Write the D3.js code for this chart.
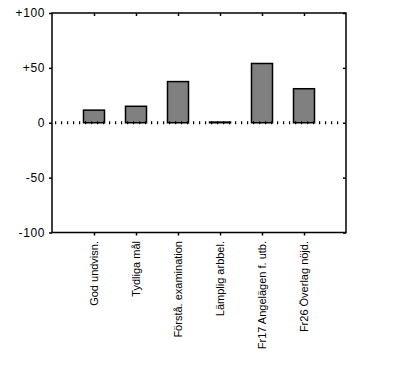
<!DOCTYPE html>
<html>
<head>
<meta charset="utf-8">
<script src="https://cdn.jsdelivr.net/npm/d3@7"></script>
<style>
  body { margin: 0; background: #fff; }
  text { font-family: "Liberation Sans", Arial, sans-serif; font-size: 11px; fill: #000; }
</style>
</head>
<body>
<script>
const w = 395;
const h = 366;

const categories = ["God undvisn.", "Tydliga mål", "Förstå. examination", "Lämplig arbbel.", "Fr17 Angelägen f. utb.", "Fr26 Överlag nöjd."];
const values = [11.5, 15, 37.5, 0.6, 54, 31];
const yTicks = [100, 50, 0, -50, -100];
const yTickLabels = ["+100", "+50", "0", "-50", "-100"];

const plotLeft = 52, plotRight = 346, plotTop = 13, plotBottom = 232.5;

const xScale = d3.scalePoint()
                 .domain(categories)
                 .range([plotLeft, plotRight])
                 .padding(1);

const yScale = d3.scaleLinear()
                 .domain([-100, 100])
                 .range([plotBottom, plotTop]);

const barW = xScale.step() / 2;

const svg = d3.select("body")
              .append("svg")
              .attr("width", w)
              .attr("height", h);

// bars
svg.selectAll("rect.bar")
   .data(values)
   .enter()
   .append("rect")
   .attr("class", "bar")
   .attr("x", (d, i) => xScale(categories[i]) - barW / 2)
   .attr("y", d => yScale(Math.max(d, 0)))
   .attr("width", barW)
   .attr("height", d => Math.abs(yScale(d) - yScale(0)))
   .attr("fill", "#808080")
   .attr("stroke", "#000")
   .attr("stroke-width", 1.5);

// dotted zero line
svg.append("line")
   .attr("x1", plotLeft + 3)
   .attr("x2", plotRight - 3)
   .attr("y1", yScale(0))
   .attr("y2", yScale(0))
   .attr("stroke", "#000")
   .attr("stroke-width", 3)
   .attr("stroke-dasharray", "1.2,4.8");

// axes
const yAxisLeft = d3.axisLeft(yScale)
                    .tickValues(yTicks)
                    .tickSize(3)
                    .tickFormat((d, i) => yTickLabels[i]);
const yAxisRight = d3.axisLeft(yScale)
                     .tickValues(yTicks)
                     .tickSize(3)
                     .tickFormat("");
const xAxisBottom = d3.axisBottom(xScale)
                      .tickSize(3)
                      .tickFormat("");
const xAxisTop = d3.axisBottom(xScale)
                   .tickSize(3)
                   .tickFormat("");

const gl = svg.append("g")
   .attr("transform", "translate(" + plotLeft + ",0)")
   .call(yAxisLeft);

svg.append("g")
   .attr("transform", "translate(" + plotRight + ",0)")
   .call(yAxisRight);

svg.append("g")
   .attr("transform", "translate(0," + plotBottom + ")")
   .call(xAxisBottom);

svg.append("g")
   .attr("transform", "translate(0," + plotTop + ")")
   .call(xAxisTop);

svg.selectAll(".domain").remove();
svg.selectAll(".tick line").attr("stroke", "#000").attr("stroke-width", 1.5);
gl.selectAll("text")
  .attr("x", -7)
  .attr("font-size", 12)
  .style("font-family", "'Liberation Sans', Arial, sans-serif")
  .style("font-size", "12px")
  .style("letter-spacing", "0.6px");

// frame
svg.append("rect")
   .attr("x", plotLeft)
   .attr("y", plotTop)
   .attr("width", plotRight - plotLeft)
   .attr("height", plotBottom - plotTop)
   .attr("fill", "none")
   .attr("stroke", "#000")
   .attr("stroke-width", 1.5);

// category labels
svg.selectAll("text.cat")
   .data(categories)
   .enter()
   .append("text")
   .attr("class", "cat")
   .attr("text-anchor", "end")
   .attr("transform", d => "translate(" + (xScale(d) + 4) + "," + 241 + ") rotate(-90)")
   .text(d => d);
</script>
</body>
</html>
